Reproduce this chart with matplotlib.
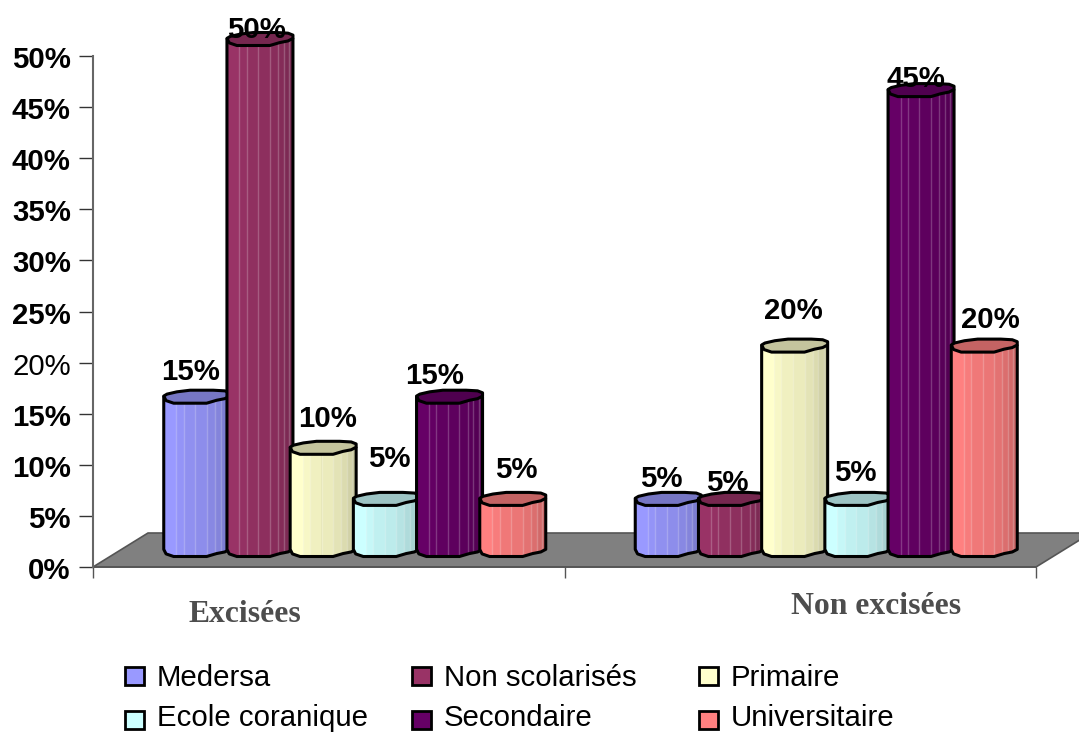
import numpy as np
import matplotlib
matplotlib.use("Agg")
import matplotlib.pyplot as plt
from matplotlib.patches import Polygon, Rectangle
from matplotlib.transforms import ScaledTranslation

groups = ["Excisées", "Non excisées"]
levels = ["Medersa", "Non scolarisés", "Primaire", "Ecole coranique", "Secondaire", "Universitaire"]
excisees = [15, 50, 10, 5, 15, 5]
non_excisees = [5, 5, 20, 5, 45, 20]
colors = ["#9999FF", "#993366", "#FFFFCC", "#CCFFFF", "#660066", "#FF8080"]
y_ticks = list(range(0, 51, 5))

W, H = 1079, 733
fig = plt.figure(figsize=(W / 100, H / 100), dpi=100)
ax = fig.add_axes([93 / W, 1 - 567 / H, (1036 - 93) / W, (567 - 56) / H])
ax.set_xlim(0, 2)
ax.set_ylim(0, 50)

# pixel sizes turned into data units
px_x = 2 / (1036 - 93)
px_y = 50 / (567 - 56)
depth_x = 55 * px_x
depth_y = 34 * px_y
shift_x = 26 * px_x
step = 63.2 * px_x
rx = 33 * px_x
ry = 6.5 * px_y

# floor of the 3d box
floor = Polygon([(0, 0), (depth_x, depth_y), (2 + depth_x, depth_y), (2, 0)],
                closed=True, facecolor="#808080", edgecolor="#555555", linewidth=1.2,
                clip_on=False, zorder=1)
ax.add_patch(floor)

front_u = np.array([-1, -0.93, -0.7, 0.3, 0.6, 0.85, 1])
front_v = np.array([0.1, -0.6, -1, -1, -0.55, -0.3, 0.1])
back_u = np.array([1, 0.85, 0.5, -0.2, -0.6, -0.9])
back_v = np.array([0.6, 0.9, 1, 1, 0.75, 0.4])
shade = [1.0, 0.97, 0.94, 0.92, 0.89, 0.86, 0.82, 0.78]
strip_edges = np.array([-1.02, -0.62, -0.4, -0.05, 0.3, 0.55, 0.72, 0.88, 1.02])

z = 2
for g, values in enumerate([excisees, non_excisees]):
    for j, val in enumerate(values):
        x = g + 0.5 + shift_x + (j - 2.5) * step
        base = depth_y / 2
        top = base + val
        fx = x + rx * front_u
        rgb = np.array(matplotlib.colors.to_rgb(colors[j]))
        outline_pts = np.vstack([
            np.column_stack([fx, base + ry * front_v]),
            [[x + rx, top], [x - rx, top]],
        ])
        # solid body under the strips, so the floor does not show in the seams
        body = Polygon(outline_pts, closed=True, facecolor=rgb * 0.9, edgecolor="none",
                       clip_on=False, zorder=z)
        ax.add_patch(body)
        for k, s in enumerate(shade):
            left = x + rx * strip_edges[k]
            right = x + rx * strip_edges[k + 1]
            bar = ax.bar(left, top - base + ry, width=right - left, bottom=base - ry,
                         align="edge", color=rgb * s, linewidth=0, zorder=z)[0]
            bar.set_clip_box(None)
            bar.set_clip_path(body)
            if k > 0:
                line = ax.plot([left, left], [base - ry, top], color="white", alpha=0.22,
                               linewidth=1, zorder=z)[0]
                line.set_clip_box(None)
                line.set_clip_path(body)
        outline = Polygon(outline_pts, closed=True, facecolor="none", edgecolor="black",
                          linewidth=2.2, clip_on=False, joinstyle="round", zorder=z + 0.1)
        ax.add_patch(outline)
        cap = Polygon(np.vstack([
            np.column_stack([x + rx * front_u, top + ry * front_v]),
            np.column_stack([x + rx * back_u, top + ry * back_v]),
        ]), closed=True, facecolor=rgb * 0.77, edgecolor="black", linewidth=2.2,
            clip_on=False, joinstyle="round", zorder=z + 0.2)
        ax.add_patch(cap)
        z += 1

# label centres relative to the bar top, in pixels
label_nudge = [[-6, 25], [-3, 9], [4, 29], [3, 40], [-15, 21], [4, 29],
               [-7, 20], [-4, 16], [-1, 35], [-3, 26], [-5, 11], [6, 26]]
n = 0
for g, values in enumerate([excisees, non_excisees]):
    for j, val in enumerate(values):
        x = g + 0.5 + shift_x + (j - 2.5) * step
        ax.annotate(f"{val}%", (x, depth_y / 2 + val), xytext=label_nudge[n],
                    textcoords="offset pixels", ha="center", va="center",
                    family="Liberation Sans", fontweight="bold", fontsize=21.2,
                    color="black", annotation_clip=False, zorder=100)
        n += 1

for s in ["top", "right"]:
    ax.spines[s].set_visible(False)
ax.spines["left"].set_color("#666666")
ax.spines["left"].set_linewidth(1.5)
ax.spines["bottom"].set_color("#555555")
ax.spines["bottom"].set_linewidth(1.2)
ax.spines["bottom"].set_zorder(1.5)

ax.set_yticks(y_ticks)
ax.set_yticklabels([f"{t}%" for t in y_ticks], family="Liberation Sans",
                   fontweight="bold", fontsize=21.2)
ax.get_yticklabels()[4].set_fontweight("normal")
ax.tick_params(axis="y", length=10, width=1, color="#333333", pad=6)
down = ScaledTranslation(0, -1 / 100, fig.dpi_scale_trans)
for lab in ax.get_yticklabels():
    lab.set_transform(lab.get_transform() + down)
ax.set_xticks([0, 1, 2])
ax.set_xticklabels([])
ax.tick_params(axis="x", length=8, width=1, color="#555555")

fig.text(245 / W, 1 - 614 / H, groups[0], family="Liberation Serif", fontweight="bold",
         fontsize=22.8, color="#4d4d4d", ha="center", va="center")
fig.text(876 / W, 1 - 606 / H, groups[1], family="Liberation Serif", fontweight="bold",
         fontsize=22.8, color="#4d4d4d", ha="center", va="center")

# legend laid out by hand, columns are evenly spaced in the original
for i, name in enumerate(levels):
    col = i % 3
    row = i // 3
    lx = 125 + col * 287
    ly = 676 + row * 44
    fig.add_artist(Rectangle((lx / W, 1 - (ly + 9) / H), 19 / W, 18 / H,
                             transform=fig.transFigure, facecolor=colors[i],
                             edgecolor="black", linewidth=2))
    # second row sits a little higher so the descenders stay inside the figure
    fig.text((lx + 32) / W, 1 - (ly + 2 - row * 4) / H, name, family="Liberation Sans",
             fontsize=21.2, color="black", ha="left", va="center")

fig.savefig("out.png", dpi=100)
